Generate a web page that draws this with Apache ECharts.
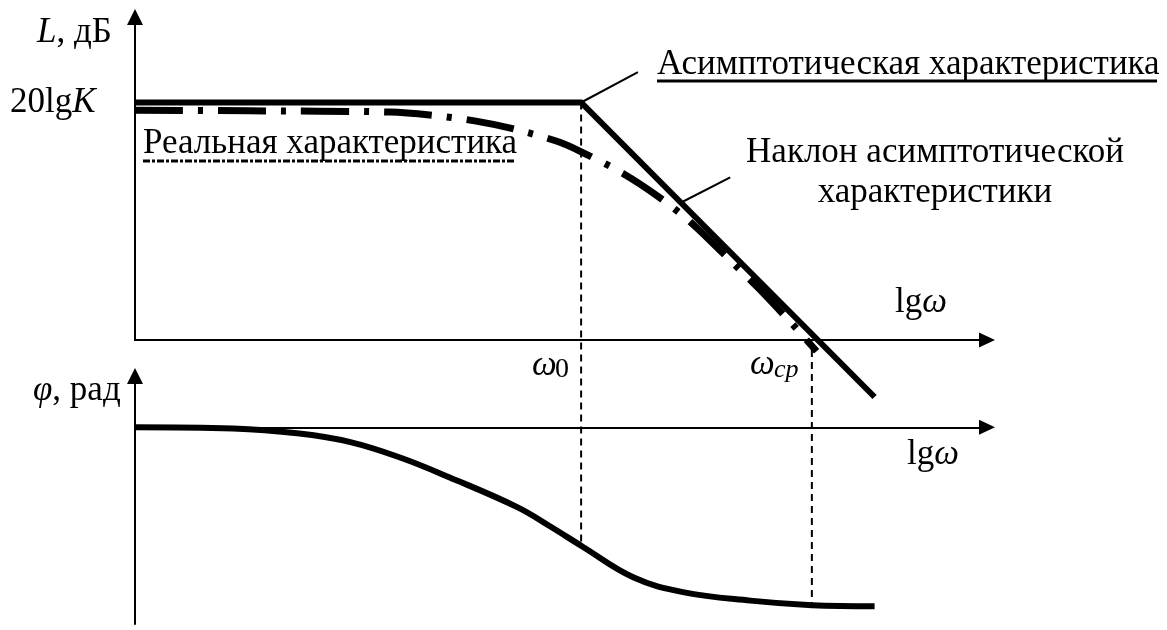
<!DOCTYPE html>
<html>
<head>
<meta charset="utf-8">
<script src="https://cdn.jsdelivr.net/npm/echarts@6/dist/echarts.min.js"></script>
<style>
  html, body { margin: 0; padding: 0; background: #fff; }
  #main { width: 1167px; height: 630px; }
</style>
</head>
<body>
<div id="main"></div>
<script>
// ЛАЧХ / ЛФЧХ, x = lg(omega) (условные единицы)
const asymX = [0, 3.77, 6.25];
const asymL = [40, 40, -9.6];

const realX = [0, 0.97, 2.15, 2.49, 2.87, 3.21, 3.59, 3.78, 4.12, 4.44, 4.72, 5.00, 5.26, 5.54, 5.76];
const realL = [38.7, 38.6, 38.4, 37.9, 36.9, 35.5, 33.3, 31.6, 28.1, 23.9, 19.4, 14.0, 8.9, 3.0, -1.9];

const phaseX = [0, 0.83, 1.39, 1.82, 2.24, 2.66, 3.23, 3.51, 3.78, 4.21, 4.63, 5.20, 5.72, 6.25];
const phaseY = [0, -0.02, -0.11, -0.26, -0.53, -0.88, -1.40, -1.74, -2.09, -2.63, -2.89, -3.04, -3.12, -3.14];

const omega0 = 3.77;
const omegaCp = 5.72;
const w0Line = [40, -34.2];
const wCpLine = [-1.7, -44.6];

// выноски
const leader1X = [3.77, 4.25];
const leader1L = [40, 45.1];
const leader2X = [4.62, 5.03];
const leader2L = [23.2, 27.4];

function zip(xs, ys) {
    let out = [];
    for (let i = 0; i < xs.length; i++) {
        out.push([xs[i], ys[i]]);
    }
    return out;
}

const FONT = '"Liberation Serif", "Times New Roman", serif';
const FS = 35;

function txt(x, baseline, text, align, rich) {
    return {
        type: 'text',
        x: x,
        y: baseline - 12,
        style: {
            text: text,
            fontFamily: FONT,
            fontSize: FS,
            fill: '#000',
            align: align || 'left',
            verticalAlign: 'middle',
            rich: rich
        }
    };
}

const richI = {
    i: { fontStyle: 'italic', fontFamily: FONT, fontSize: FS, fill: '#000' }
};

let myChart = echarts.init(document.getElementById('main'));

let axisLine = function (size) {
    return {
        show: true,
        onZero: true,
        symbol: ['none', 'triangle'],
        symbolSize: size,
        lineStyle: { color: '#000', width: 2 }
    };
};

let option = {
    backgroundColor: '#fff',
    animation: false,
    grid: [
        { left: 135, top: 17, width: 852, height: 323 },
        { left: 135, top: 376, width: 852, height: 248 }
    ],
    xAxis: [
        { type: 'value', gridIndex: 0, min: 0, max: 7.2, axisLine: axisLine([15, 16]),
          axisTick: { show: false }, axisLabel: { show: false }, splitLine: { show: false } },
        { type: 'value', gridIndex: 1, min: 0, max: 7.2, axisLine: axisLine([15, 16]),
          axisTick: { show: false }, axisLabel: { show: false }, splitLine: { show: false } }
    ],
    yAxis: [
        { type: 'value', gridIndex: 0, min: 0, max: 54.4, axisLine: axisLine([16, 16]),
          axisTick: { show: false }, axisLabel: { show: false }, splitLine: { show: false } },
        { type: 'value', gridIndex: 1, min: -3.45, max: 0.9, axisLine: axisLine([16, 16]),
          axisTick: { show: false }, axisLabel: { show: false }, splitLine: { show: false } }
    ],
    series: [
        {
            name: 'w0', type: 'line', xAxisIndex: 0, yAxisIndex: 0, clip: false, z: 1,
            symbol: 'none', data: zip([omega0, omega0], w0Line),
            lineStyle: { color: '#000', width: 2, type: [7, 5] }
        },
        {
            name: 'wcp', type: 'line', xAxisIndex: 0, yAxisIndex: 0, clip: false, z: 1,
            symbol: 'none', data: zip([omegaCp, omegaCp], wCpLine),
            lineStyle: { color: '#000', width: 2, type: [7, 5] }
        },
        {
            name: 'leader1', type: 'line', xAxisIndex: 0, yAxisIndex: 0, clip: false, z: 2,
            symbol: 'none', data: zip(leader1X, leader1L),
            lineStyle: { color: '#000', width: 2 }
        },
        {
            name: 'leader2', type: 'line', xAxisIndex: 0, yAxisIndex: 0, clip: false, z: 2,
            symbol: 'none', data: zip(leader2X, leader2L),
            lineStyle: { color: '#000', width: 2 }
        },
        {
            name: 'Асимптотическая', type: 'line', xAxisIndex: 0, yAxisIndex: 0, clip: false, z: 3,
            symbol: 'none', data: zip(asymX, asymL),
            lineStyle: { color: '#000', width: 6, join: 'miter' }
        },
        {
            name: 'Реальная', type: 'line', xAxisIndex: 0, yAxisIndex: 0, clip: false, z: 3,
            symbol: 'none', smooth: 0.3, data: zip(realX, realL),
            lineStyle: { color: '#000', width: 7, type: [48, 15, 5, 15], cap: 'butt' }
        },
        {
            name: 'phi', type: 'line', xAxisIndex: 1, yAxisIndex: 1, clip: false, z: 3,
            symbol: 'none', smooth: 0.4, data: zip(phaseX, phaseY),
            lineStyle: { color: '#000', width: 6 }
        }
    ],
    graphic: [
        txt(37, 45, '{i|L}, дБ', 'left', richI),
        txt(10, 115, '20lg{i|K}', 'left', richI),
        txt(143, 156, 'Реальная характеристика'),
        txt(657, 77, 'Асимптотическая характеристика'),
        txt(935, 165, 'Наклон асимптотической', 'center'),
        txt(935, 205, 'характеристики', 'center'),
        txt(895, 315, 'lg{i|ω}', 'left', richI),
        txt(907, 467, 'lg{i|ω}', 'left', richI),
        txt(33, 403, '{i|φ}, рад', 'left', richI),
        txt(532, 378, '{i|ω}', 'left', richI),
        {
            type: 'text', x: 555, y: 384,
            style: { text: '0', fontFamily: FONT, fontSize: 28, fill: '#000', verticalAlign: 'bottom' }
        },
        txt(750, 377, '{i|ω}', 'left', richI),
        {
            type: 'text', x: 774, y: 383,
            style: { text: 'cp', fontFamily: FONT, fontSize: 26, fontStyle: 'italic', fill: '#000', verticalAlign: 'bottom' }
        },
        {
            type: 'line', shape: { x1: 657, y1: 81, x2: 1157, y2: 81 },
            style: { stroke: '#000', lineWidth: 3 }
        },
        {
            type: 'line', shape: { x1: 143, y1: 161, x2: 515, y2: 161 },
            style: { stroke: '#000', lineWidth: 3, lineDash: [7, 2, 3, 2] }
        }
    ]
};

myChart.setOption(option);
</script>
</body>
</html>
